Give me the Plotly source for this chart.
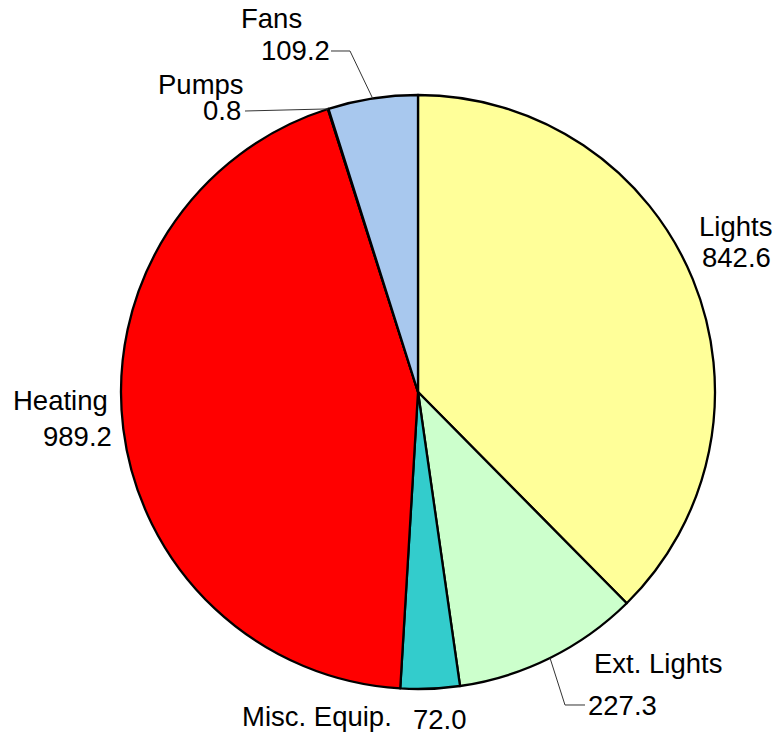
import math
import plotly.graph_objects as go

labels = ["Lights", "Ext. Lights", "Misc. Equip.", "Heating", "Pumps", "Fans"]
values = [842.6, 227.3, 72.0, 989.2, 0.8, 109.2]
colors = ["#FFFF99", "#CCFFCC", "#33CCCC", "#FF0000", "#99CCFF", "#A8C8EE"]
value_text = ["842.6", "227.3", "72.0", "989.2", "0.8", "109.2"]

W, H = 776, 734
CX, CY, R = 418, 392, 297  # pie centre and radius in pixels


def px(x):
    return x / W


def py(y):
    return 1 - y / H


# label placement in pixels: (name x, name y, value x, value y)
label_pos = {
    "Lights": (735.5, 226, 736, 257),
    "Ext. Lights": (657.5, 663, 622.5, 705),
    "Misc. Equip.": (316.5, 716.5, 439.5, 719),
    "Heating": (60, 400, 77, 436.5),
    "Pumps": (201, 85, 222, 111),
    "Fans": (271, 18, 295, 50),
}
# leader lines: points after the slice edge
leaders = {
    "Ext. Lights": [(565, 705), (585, 705)],
    "Pumps": [(245, 111)],
    "Fans": [(350, 51), (331, 51)],
}

fig = go.Figure(go.Pie(
    labels=labels,
    values=values,
    sort=False,
    direction="clockwise",
    rotation=0,
    marker=dict(colors=colors, line=dict(color="black", width=2.3)),
    textinfo="none",
    automargin=False,
    showlegend=False,
    hoverinfo="label+value",
    domain=dict(x=[px(CX - R), px(CX + R)], y=[py(CY + R), py(CY - R)]),
))

font = dict(family="Liberation Sans, Arial", size=27.5, color="black")
annotations = []
for name, val in zip(labels, value_text):
    nx, ny, vx, vy = label_pos[name]
    annotations.append(dict(x=px(nx), y=py(ny), text=name, showarrow=False,
                            xref="paper", yref="paper", font=font,
                            xanchor="center", yanchor="middle"))
    annotations.append(dict(x=px(vx), y=py(vy), text=val, showarrow=False,
                            xref="paper", yref="paper", font=font,
                            xanchor="center", yanchor="middle"))

total = sum(values)
shapes = []
cum = 0
for name, v in zip(labels, values):
    mid = (cum + v / 2) / total * 2 * math.pi
    cum += v
    if name not in leaders:
        continue
    pts = [(CX + R * math.sin(mid), CY - R * math.cos(mid))] + leaders[name]
    path = "M " + " L ".join(f"{px(x):.5f},{py(y):.5f}" for x, y in pts)
    shapes.append(dict(type="path", path=path, xref="paper", yref="paper",
                       line=dict(color="#333333", width=1)))

fig.update_layout(
    width=W, height=H,
    margin=dict(l=0, r=0, t=0, b=0),
    paper_bgcolor="white",
    plot_bgcolor="white",
    annotations=annotations,
    shapes=shapes,
)

# drop the default page margin so the figure sits at the window corner
fig.write_html("out.html", config={"displayModeBar": False},
               post_script="document.body.style.margin='0';")
